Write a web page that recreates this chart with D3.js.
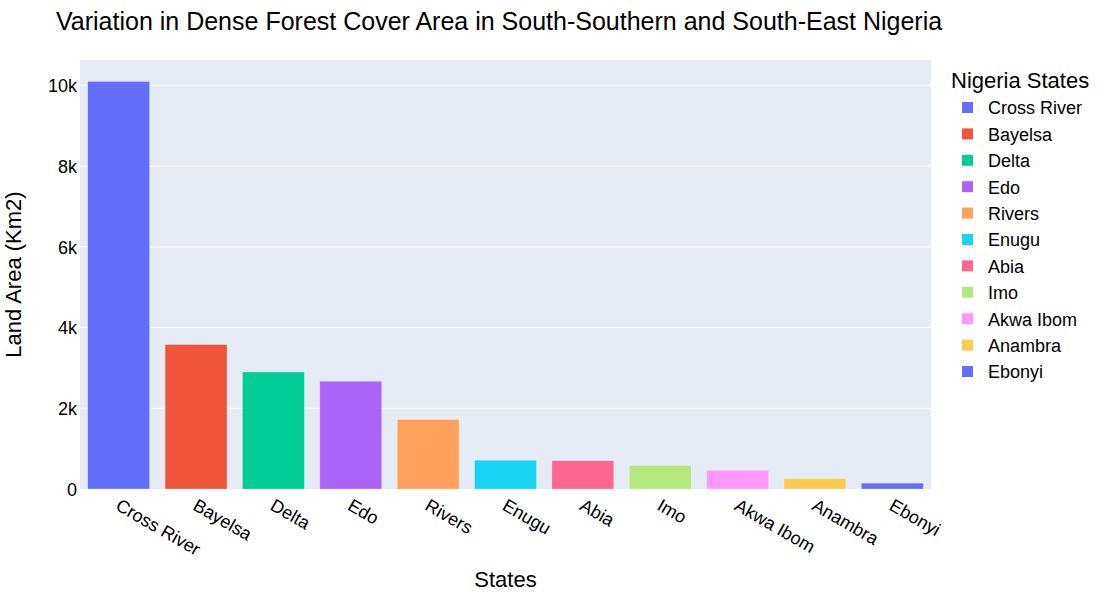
<!DOCTYPE html>
<html><head><meta charset="utf-8">
<script src="https://cdn.jsdelivr.net/npm/d3@7"></script>
<style>body{margin:0;background:#fff;} text{font-family:"Liberation Sans",Arial,sans-serif;fill:#000;}</style>
</head><body>
<svg id="c" width="1102" height="600"></svg>
<script>
const states = ["Cross River","Bayelsa","Delta","Edo","Rivers","Enugu","Abia","Imo","Akwa Ibom","Anambra","Ebonyi"];
const areas = [10100, 3580, 2900, 2670, 1720, 714, 700, 585, 466, 260, 144];
const colors = ["#636efa","#EF553B","#00cc96","#ab63fa","#FFA15A","#19d3f3","#FF6692","#B6E880","#FF97FF","#FECB52","#636efa"];
const yTicks = [0, 2000, 4000, 6000, 8000, 10000];
const yTickLabels = ["0","2k","4k","6k","8k","10k"];
const titleText = "Variation in Dense Forest Cover Area in South-Southern and South-East Nigeria";
const xTitle = "States", yTitle = "Land Area (Km2)", legendTitle = "Nigeria States";

const svg = d3.select("#c");
const m = {l:80, t:60, r:1102-931, b:600-489};
const W = 1102 - m.l - m.r, H = 600 - m.t - m.b;
const g = svg.append("g").attr("transform",`translate(${m.l},${m.t})`);
g.append("rect").attr("width",W).attr("height",H).attr("fill","#e5ecf6");

const x = d3.scaleBand().domain(states).range([0,W]).paddingInner(0.2).paddingOuter(0.1);
const ymax = d3.max(areas)*1.0526;
const y = d3.scaleLinear().domain([0,ymax]).range([H,0]);

// grid
g.selectAll(".grid").data(yTicks.filter(d=>d>0)).enter().append("line")
  .attr("x1",0).attr("x2",W).attr("y1",d=>y(d)).attr("y2",d=>y(d))
  .attr("stroke","#fff").attr("stroke-width",1);

// y axis labels
const yAxis = d3.axisLeft(y).tickValues(yTicks).tickFormat((d,i)=>yTickLabels[i]).tickSize(0).tickPadding(3);
const ya = g.append("g").call(yAxis);
ya.select(".domain").remove();
ya.selectAll("text").attr("font-size",18).attr("dy","0.35em").style("font-family",'"Liberation Sans",Arial,sans-serif').attr("fill","#000");

// bars
g.selectAll(".bar").data(states).enter().append("rect")
  .attr("x",d=>x(d)).attr("width",x.bandwidth())
  .attr("y",(d,i)=>y(areas[i])).attr("height",(d,i)=>H-y(areas[i]))
  .attr("fill",(d,i)=>colors[i]).attr("stroke","rgba(255,255,255,0.5)").attr("stroke-width",0.5);

// x axis labels
const xAxis = d3.axisBottom(x).tickSize(0).tickPadding(0);
const xa = g.append("g").attr("transform",`translate(0,${H})`).call(xAxis);
xa.select(".domain").remove();
xa.selectAll("text").attr("font-size",18).style("font-family",'"Liberation Sans",Arial,sans-serif').attr("fill","#000")
  .attr("text-anchor","start").attr("y",0).attr("x",0)
  .attr("transform","translate(2,9) rotate(30)").attr("dy","0.7em");

// titles
svg.append("text").attr("x",56).attr("y",30).attr("font-size",25).text(titleText);
svg.append("text").attr("x",m.l+W/2).attr("y",587).attr("text-anchor","middle").attr("font-size",22).text(xTitle);
svg.append("text").attr("transform",`translate(13,${m.t+H/2}) rotate(-90)`).attr("text-anchor","middle").attr("dy","0.35em").attr("font-size",22).text(yTitle);

// legend
const lg = svg.append("g").attr("transform","translate(951,0)");
lg.append("text").attr("x",0).attr("y",88).attr("font-size",22).text(legendTitle);
const items = lg.selectAll(".li").data(states).enter().append("g")
  .attr("transform",(d,i)=>`translate(0,${108+i*26.4})`);
items.append("rect").attr("x",11).attr("y",-6).attr("width",11).attr("height",11).attr("fill",(d,i)=>colors[i]);
items.append("text").attr("x",37).attr("y",0).attr("dy","0.35em").attr("font-size",18).text(d=>d);
</script>
</body></html>
